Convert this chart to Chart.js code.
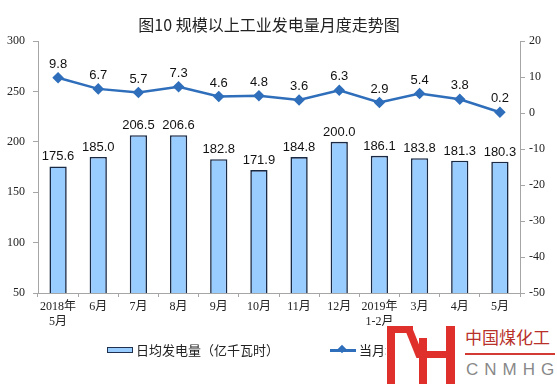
<!DOCTYPE html>
<html>
<head>
<meta charset="utf-8">
<script src="https://cdn.jsdelivr.net/npm/chart.js@4"></script>
<style>
  body { margin: 0; background: #fff; }
  #wrap { position: relative; width: 557px; height: 384px; overflow: hidden; font-family: "Noto Sans CJK SC", "Noto Sans", sans-serif; }
  #title { position: absolute; left: 0; width: 538px; top: 12px; text-align: center; font-size: 16px; color: #222; white-space: nowrap; }
  .leg { position: absolute; font-size: 13px; color: #222; line-height: 16px; white-space: nowrap; }
  .wm { position: absolute; background: #e0302b; }
</style>
</head>
<body>
<div id="wrap">
  <canvas id="myChart" width="557" height="384"></canvas>
  <div id="title">图10 规模以上工业发电量月度走势图</div>

  <div style="position:absolute;left:107px;top:347px;width:24px;height:4px;background:#99ccff;border:1.5px solid #1f3050;"></div>
  <div class="leg" style="left:136px;top:342px;">日均发电量（亿千瓦时）</div>
  <div style="position:absolute;left:330px;top:349px;width:26px;height:3px;background:#2f6eba;"></div>
  <div style="position:absolute;left:339px;top:346px;width:6px;height:6px;background:#2f6eba;transform:rotate(45deg);"></div>
  <div class="leg" style="left:359px;top:342px;">当月增速（%）</div>

  <!-- watermark -->
  <div style="position:absolute;left:386px;top:322px;width:171px;height:62px;background:#fff;"></div>
  <div class="wm" style="left:387px;top:326px;width:8px;height:58px;"></div>
  <div class="wm" style="left:387px;top:326px;width:26px;height:7px;"></div>
  <div class="wm" style="left:410px;top:326px;width:8px;height:32px;transform:skewX(22deg);"></div>
  <div class="wm" style="left:419px;top:338px;width:8px;height:46px;"></div>
  <div class="wm" style="left:446px;top:326px;width:9px;height:58px;"></div>
  <div class="wm" style="left:425px;top:351px;width:25px;height:7px;"></div>
  <div style="position:absolute;left:465px;top:327px;font-size:17px;line-height:20px;color:#b8312b;white-space:nowrap;">中国煤化工</div>
  <div style="position:absolute;left:465px;top:353px;width:90px;height:2px;background:#d23a33;"></div>
  <div style="position:absolute;left:466px;top:360px;font-size:17px;line-height:20px;color:#888;letter-spacing:6px;white-space:nowrap;font-family:'Liberation Sans',sans-serif;">CNMHG</div>
</div>
<script>
const categories = [['2018年', '5月'], '6月', '7月', '8月', '9月', '10月', '11月', '12月', ['2019年', '1-2月'], '3月', '4月', '5月'];
const dailyOutput = [175.6, 185.0, 206.5, 206.6, 182.8, 171.9, 184.8, 200.0, 186.1, 183.8, 181.3, 180.3];
const growthRate = [9.8, 6.7, 5.7, 7.3, 4.6, 4.8, 3.6, 6.3, 2.9, 5.4, 3.8, 0.2];

const axisGray = '#a6a6a6';
const serif = '"Liberation Serif", "Times New Roman", "Noto Sans CJK SC", serif';

// draw value labels over bars and points
const valueLabels = {
  id: 'valueLabels',
  afterDatasetsDraw(chart) {
    const ctx = chart.ctx;
    ctx.save();
    ctx.font = '13px "Liberation Sans", Arial, sans-serif';
    ctx.fillStyle = '#111';
    ctx.textAlign = 'center';
    ctx.textBaseline = 'bottom';
    chart.data.datasets.forEach((ds, i) => {
      const meta = chart.getDatasetMeta(i);
      meta.data.forEach((el, j) => {
        const off = ds.type === 'line' ? 7 : 3;
        ctx.fillText(ds.data[j].toFixed(1), el.x, el.y - off);
      });
    });
    ctx.restore();
  }
};

const ctx = document.getElementById('myChart');
const myChart = new Chart(ctx, {
  data: {
    labels: categories,
    datasets: [
      {
        type: 'line',
        label: '当月增速（%）',
        data: growthRate,
        yAxisID: 'y1',
        borderColor: '#2f6eba',
        backgroundColor: '#2f6eba',
        borderWidth: 2.5,
        pointStyle: 'rectRot',
        pointRadius: 4,
        tension: 0,
        order: 0
      },
      {
        type: 'bar',
        label: '日均发电量（亿千瓦时）',
        data: dailyOutput,
        yAxisID: 'y',
        backgroundColor: '#99ccff',
        borderColor: '#1a2a44',
        borderWidth: 1.6,
        barPercentage: 0.43,
        categoryPercentage: 1,
        order: 1
      }
    ]
  },
  plugins: [valueLabels],
  options: {
    responsive: false,
    animation: false,
    layout: { padding: { top: 41, left: 0, right: 0, bottom: 0 } },
    plugins: { legend: { display: false }, tooltip: { enabled: false }, title: { display: false } },
    scales: {
      x: {
        offset: true,
        grid: { offset: true, drawOnChartArea: false, drawTicks: true, tickLength: 4, color: axisGray },
        border: { color: axisGray },
        ticks: { color: '#222', font: { family: serif, size: 12 }, padding: 3, maxRotation: 0, autoSkip: false },
        afterFit(scale) { scale.height = 91; }
      },
      y: {
        position: 'left',
        min: 50, max: 300,
        grid: { drawOnChartArea: false, tickLength: 5, color: axisGray },
        border: { color: axisGray },
        ticks: { stepSize: 50, color: '#222', font: { family: serif, size: 12 }, padding: 8 },
        afterFit(scale) { scale.width = 38; }
      },
      y1: {
        position: 'right',
        min: -50, max: 20,
        grid: { drawOnChartArea: false, tickLength: 5, color: axisGray },
        border: { color: axisGray },
        ticks: { stepSize: 10, color: '#222', font: { family: serif, size: 12 }, padding: 4 },
        afterFit(scale) { scale.width = 37; }
      }
    }
  }
});
</script>
</body>
</html>
